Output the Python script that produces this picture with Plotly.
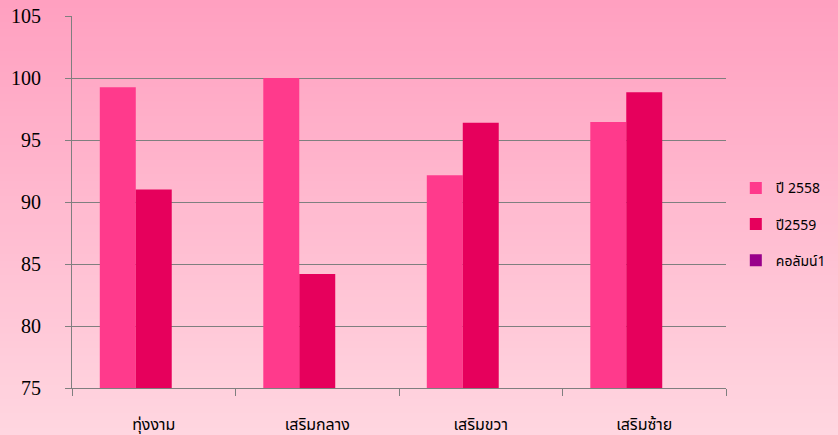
import plotly.graph_objects as go

categories = ["ทุ่งงาม", "เสริมกลาง", "เสริมขวา", "เสริมซ้าย"]
series_names = ["ปี 2558", "ปี2559", "คอลัมน์1"]
values_2558 = [99.25, 100.0, 92.15, 96.45]
values_2559 = [91.0, 84.2, 96.4, 98.85]
values_col1 = [None, None, None, None]
colors = ["#FF3A8C", "#E6005C", "#99008A"]

fig = go.Figure()
for i, (name, vals) in enumerate(zip(series_names, [values_2558, values_2559, values_col1])):
    fig.add_trace(go.Bar(x=categories, y=vals, name=name, marker_color=colors[i],
                         marker_line_width=0, legendgroup=str(i)))

# vertical gradient background via stacked stripes (paper coords)
top = (255, 160, 192)
bot = (255, 214, 224)
n = 60
L, R, T, B = 72, 112, 16, 47
W, H = 838, 435
pw, ph = W - L - R, H - T - B
shapes = []
for k in range(n):
    f = k / (n - 1)
    c = tuple(round(top[j] + (bot[j] - top[j]) * f) for j in range(3))
    y_top_px = H * k / n - (30 if k == 0 else 0)
    y_bot_px = H * (k + 1) / n + 1 + (30 if k == n - 1 else 0)
    shapes.append(dict(type="rect", xref="paper", yref="paper", layer="below",
                       x0=(-L - 30) / pw, x1=(W - L + 30) / pw,
                       y0=(H - B - y_bot_px) / ph, y1=(H - B - y_top_px) / ph,
                       fillcolor="rgb(%d,%d,%d)" % c, line_width=0))

thai = "Tahoma, 'Noto Sans Thai UI', 'Noto Sans Thai', 'DejaVu Sans', sans-serif"
fig.update_layout(
    autosize=True,
    margin=dict(l=L, r=R, t=T, b=B, autoexpand=False),
    paper_bgcolor="rgb(255,190,208)",
    plot_bgcolor="rgba(0,0,0,0)",
    barmode="group", bargap=0.34, bargroupgap=0,
    shapes=shapes,
    showlegend=True,
    legend=dict(x=1.015, y=0.44, xanchor="left", yanchor="middle",
                font=dict(family=thai, size=14, color="#000"),
                tracegroupgap=15, itemsizing="constant", bgcolor="rgba(0,0,0,0)"),
    font=dict(family="Liberation Serif, serif", color="#000"),
)
fig.update_yaxes(range=[75, 105], dtick=5, showgrid=True, gridcolor="#7F7F7F", gridwidth=1,
                 showline=True, linecolor="#7F7F7F", linewidth=1, ticks="outside", ticklen=6,
                 tickcolor="#7F7F7F", tickfont=dict(family="Liberation Serif, serif", size=20),
                 ticklabelstandoff=20, zeroline=False, automargin=False)
fig.update_xaxes(showline=True, linecolor="#7F7F7F", linewidth=1, ticks="outside", ticklen=7,
                 tickcolor="#7F7F7F", tickson="boundaries", ticklabelstandoff=22,
                 tickfont=dict(family=thai, size=16), automargin=False)

post = (
    "document.documentElement.style.overflow='hidden';"
    "document.documentElement.style.margin='0';"
    "document.body.style.margin='0';document.body.style.padding='0';"
    "document.body.style.overflow='hidden';"
    "var gd=document.getElementById('{plot_id}');"
    "gd.style.width='100vw';gd.style.height='100vh';"
    "if(gd.parentNode){gd.parentNode.style.margin='0';}"
    "Plotly.Plots.resize(gd);"
)
fig.write_html("out.html", default_width="100vw", default_height="100vh",
               config={"displayModeBar": False, "responsive": True},
               post_script=post)
